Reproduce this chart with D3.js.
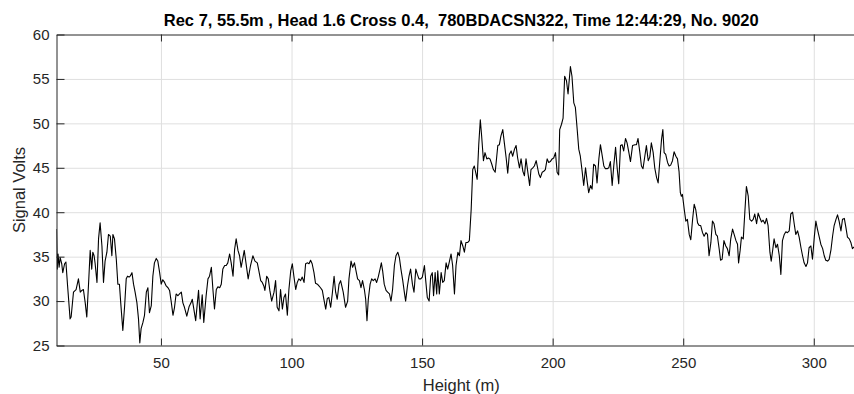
<!DOCTYPE html>
<html>
<head>
<meta charset="utf-8">
<script src="https://cdn.jsdelivr.net/npm/d3@7"></script>
<style>
  html, body { margin: 0; padding: 0; background: #fff; }
  svg { display: block; font-family: "Liberation Sans", Arial, Helvetica, sans-serif; }
</style>
</head>
<body>
<svg id="chart" width="854" height="394"></svg>
<script>
// Sensor trace: height along the run (m) and measured signal (V)
const heights = [
  10.0, 10.3, 10.6, 11.0, 11.4, 12.0, 12.4, 13.1, 13.6, 14.2, 15.2, 15.6, 16.5, 17.5, 18.4, 19.1, 19.7, 20.3, 21.0, 21.6,
  22.3, 22.9, 23.5, 23.9, 24.4, 24.8, 25.5, 26.1, 26.7, 27.4, 28.0, 28.6, 29.3, 29.9, 30.6, 31.2, 31.6, 32.2, 32.9, 33.5,
  34.1, 34.6, 35.4, 36.1, 36.7, 37.2, 37.8, 38.2, 38.9, 39.5, 40.1, 40.8, 41.4, 41.9, 42.4, 43.1, 43.7, 44.4, 45.0,
  45.6, 46.3, 46.9, 47.5, 48.2, 48.8, 49.5, 50.1, 50.7, 51.4, 52.0, 52.7, 53.3, 53.9, 54.6, 55.2, 55.8, 56.5, 57.1, 57.8,
  58.4, 59.0, 59.9, 60.8, 61.5, 62.0, 63.3, 64.4, 65.0, 65.8, 66.4, 67.3, 68.0, 68.6, 69.3, 69.9, 70.5, 71.2, 71.8, 72.5,
  73.1, 73.7, 74.4, 75.0, 75.6, 76.3, 76.9, 77.6, 78.2, 78.8, 79.5, 80.1, 80.7, 81.4, 81.9,
  83.4, 84.3, 85.2, 86.0, 86.9, 87.5, 88.2, 88.8, 89.4, 89.8, 90.5, 91.1, 91.7, 92.4, 93.3, 93.9, 94.5, 95.2, 95.8, 96.5,
  97.1, 97.7, 98.4, 99.0, 99.7, 100.3, 100.9, 101.6, 102.2, 102.8, 103.5, 104.1, 104.8, 105.4, 106.0, 106.7, 107.3, 107.9,
  108.6, 109.2, 109.9, 110.5, 111.1, 111.8, 112.4, 113.1, 113.7, 114.3, 115.0, 115.6, 116.3, 116.9, 117.5, 118.2, 118.8,
  119.8, 120.7, 121.5, 122.0, 122.8, 123.4, 124.1, 124.7, 125.3, 126.0, 126.6, 127.2, 127.9, 128.4, 128.9, 129.4, 130.1,
  130.7, 131.3, 132.0, 132.6, 133.2, 133.9, 134.4, 134.9, 135.5, 136.2, 136.8, 137.5, 138.1, 138.7, 139.4, 140.0, 140.7,
  141.3, 141.9, 142.6, 143.2, 143.7, 144.4, 145.0, 145.6, 146.3, 146.9, 147.6, 148.2, 148.8, 149.5, 150.1, 150.9, 151.4,
  152.0, 152.7, 153.3, 153.9, 154.4, 155.0, 155.6,
  156.0, 156.6, 157.3, 157.9, 158.5, 159.2, 159.8, 160.5, 161.1, 161.7, 162.4, 163.0, 163.7, 164.3, 164.9, 165.6, 166.2,
  166.8, 167.5, 168.1, 168.8, 169.4, 170.0, 171.1, 171.7, 172.3, 172.8, 173.5, 174.1, 174.8, 175.4, 176.0, 176.7, 177.3,
  178.0, 178.6, 179.0, 179.6, 180.2, 180.9, 181.5, 182.2, 182.8, 183.4, 184.1, 184.7, 185.4, 186.0, 186.6, 187.3, 187.9,
  188.6, 189.2, 189.8, 190.5, 191.2, 191.7, 192.4, 193.0, 193.7,
  194.7, 195.3, 196.0, 196.6, 197.2, 197.9, 198.5, 199.1, 199.8, 200.4, 201.1, 201.7, 202.3, 202.7, 203.4, 204.0, 204.6,
  205.3, 205.9, 206.8, 207.4, 208.1, 208.7, 209.4, 210.0, 210.6, 211.3, 211.9, 212.6, 213.2, 213.8, 214.5, 215.1, 215.7,
  216.4, 217.0, 217.7, 218.3, 218.9, 219.6, 220.2, 220.9, 221.5, 222.1, 222.8, 223.4, 224.1, 224.7, 225.3, 226.0, 226.6,
  227.2, 227.9, 228.5, 229.2, 229.8,
  230.6, 231.5, 232.1, 232.7, 233.4, 234.0, 234.6, 235.3, 235.9, 236.6, 237.2, 237.8, 238.5, 239.1, 239.8, 240.4, 241.0,
  241.7, 242.2, 242.7, 243.3, 244.0, 244.6, 245.2, 245.9, 246.5, 247.2, 247.8, 248.4, 248.9, 249.3, 249.7, 250.4, 251.0,
  251.6, 252.3, 252.9, 253.6, 254.2, 254.8, 255.5, 256.1, 256.7, 257.4, 258.0, 258.7, 259.3, 259.9, 260.6, 261.2, 261.8,
  262.5, 263.1, 263.8, 264.3, 264.9, 265.6,
  266.3, 266.9, 267.6, 268.2, 268.9, 269.5, 270.2, 270.8, 271.2, 271.8, 272.3, 273.0, 273.6, 274.2, 274.9, 275.5, 276.2,
  276.8, 277.4, 278.1, 278.7, 279.3, 280.0, 280.6, 281.3, 281.9, 282.5, 283.2, 283.7, 284.3, 284.8, 285.5, 286.1, 286.8,
  287.4, 288.0, 288.7, 289.3, 289.9, 290.6, 291.2, 291.9, 292.5, 293.1, 293.8, 294.4, 295.1, 295.7, 296.3, 297.0, 297.6,
  298.2, 298.9, 299.5, 300.2, 300.8, 301.4, 302.1, 302.7, 303.4, 304.0, 304.6, 305.3, 305.9, 306.6, 307.2, 307.8, 308.5,
  309.1, 309.7, 310.4, 311.0, 311.7, 312.3, 312.9, 313.6, 314.2, 314.8, 315.4
];

const volts = [
  38.1, 33.6, 35.3, 33.8, 34.9, 34.2, 33.2, 34.2, 34.4, 31.9, 28.0, 28.2, 31.0, 31.3, 32.5, 31.0, 31.2, 31.3, 29.8, 28.2,
  32.1, 35.7, 33.6, 35.5, 35.1, 34.2, 32.1, 37.0, 38.8, 36.2, 32.1, 34.5, 35.5, 37.5, 37.3, 35.1, 37.5, 37.0, 34.7, 31.9,
  31.9, 29.8, 26.7, 29.5, 32.5, 32.8, 32.7, 32.8, 33.2, 31.9, 31.0, 29.8, 28.0, 25.3, 26.9, 27.6, 28.4, 31.0, 31.5,
  28.7, 29.5, 32.8, 34.3, 34.8, 34.5, 33.2, 31.9, 32.4, 32.1, 31.7, 31.5, 31.2, 30.0, 28.4, 29.3, 30.8, 30.6, 30.8, 31.0,
  29.8, 29.3, 28.3, 29.4, 29.8, 30.2, 27.8, 31.2, 28.0, 30.7, 27.6, 30.6, 32.5, 32.8, 33.8, 31.3, 29.1, 31.3, 31.6, 31.5,
  31.9, 33.6, 34.0, 34.0, 34.3, 35.3, 34.3, 32.8, 35.8, 37.0, 35.7, 35.1, 33.8, 34.9, 35.7,
  32.5, 34.0, 35.1, 34.5, 34.3, 33.4, 32.3, 32.1, 31.7, 31.2, 32.8, 32.5, 31.2, 30.0, 31.0, 32.3, 29.3, 28.9, 31.3, 29.1,
  30.4, 30.8, 28.4, 31.3, 33.4, 34.2, 32.8, 31.3, 32.1, 32.5, 32.3, 32.7, 32.1, 34.2, 34.3, 34.2, 34.6, 34.2,
  33.2, 32.0, 31.9, 31.7, 31.5, 31.2, 30.2, 29.1, 30.3, 30.4, 29.3, 30.8, 32.8, 31.0, 30.2, 31.9, 32.3,
  31.0, 29.3, 30.0, 32.5, 34.5, 33.8, 34.3, 33.4, 32.5, 32.3, 31.5, 32.3, 31.3, 30.2, 27.8, 30.2, 31.9,
  32.5, 32.3, 32.5, 32.1, 32.7, 33.6, 34.3, 33.4, 31.9, 31.2, 31.0, 30.8, 30.0, 31.3, 34.0, 35.1, 35.5,
  34.9, 33.6, 32.3, 31.0, 30.0, 31.7, 32.8, 33.6, 31.9, 31.0, 33.6, 33.0, 32.5, 32.5, 32.7, 34.0, 32.3,
  30.4, 30.0, 32.8, 33.2, 30.6, 33.2, 30.8,
  33.4, 30.8, 33.2, 32.1, 32.3, 34.3, 33.6, 34.5, 35.3, 34.0, 30.8, 34.0, 35.5, 35.1, 36.8, 36.2, 35.5,
  36.6, 36.6, 36.8, 40.3, 44.8, 45.2, 43.7, 47.6, 50.4, 48.6, 45.8, 46.7, 46.0, 46.1, 46.0, 45.4, 44.8,
  44.5, 46.3, 47.5, 47.6, 48.6, 49.3, 47.8, 46.1, 44.4, 46.5, 46.9, 46.3, 47.1, 47.5, 46.1, 45.0, 46.0,
  44.6, 44.1, 46.0, 44.5, 43.0, 44.8, 45.0, 45.2, 45.8,
  44.3, 43.9, 44.5, 44.6, 44.8, 46.0, 45.6, 45.7, 46.0, 46.1, 46.7, 44.5, 44.2, 49.3, 49.9, 50.6, 55.3,
  54.8, 53.3, 56.4, 55.3, 52.3, 51.8, 49.3, 47.1, 46.3, 44.6, 43.0, 45.0, 43.5, 42.2, 43.0, 42.6, 45.4,
  45.2, 43.3, 46.0, 47.6, 46.5, 45.2, 44.9, 44.9, 45.0, 45.7, 43.0, 45.2, 47.3, 45.0, 43.2, 47.5, 47.6,
  46.9, 48.3, 47.8, 46.7, 45.7,
  47.5, 47.6, 47.6, 48.3, 46.7, 45.2, 44.9, 46.3, 47.5, 45.8, 46.2, 47.8, 46.7, 45.0, 43.9, 43.3, 45.6,
  48.2, 49.3, 46.7, 46.5, 45.6, 45.2, 45.3, 45.8, 46.8, 46.3, 46.0, 44.6, 42.2, 41.8, 42.0, 40.3, 39.0,
  39.2, 37.5, 36.9, 39.2, 40.9, 40.3, 38.8, 38.5, 38.5, 37.7, 37.3, 37.7, 37.5, 35.1, 36.6, 39.0, 38.7,
  37.5, 37.3, 35.8, 34.6, 34.7, 36.8,
  36.2, 35.9, 35.1, 37.0, 38.1, 37.5, 36.8, 36.4, 34.3, 35.7, 37.2, 37.0, 40.0, 42.9, 41.8, 39.2, 39.0,
  39.2, 39.8, 38.7, 39.9, 39.4, 38.9, 39.1, 38.7, 39.3, 38.5, 35.5, 34.5, 35.8, 37.0, 36.0, 36.4, 35.1,
  33.0, 36.8, 37.5, 37.8, 37.7, 37.9, 39.8, 40.0, 38.7, 37.5, 37.9, 37.2, 36.0, 35.1, 34.3, 33.9, 34.3,
  36.0, 36.2, 34.7, 37.2, 39.0, 38.1, 37.2, 36.4, 35.9, 35.1, 34.6, 34.5, 34.7, 35.8, 37.3, 38.5, 39.2,
  39.7, 39.0, 37.9, 39.2, 39.3, 38.3, 37.2, 37.0, 36.6, 35.9, 36.1
];

const xTickValues = [50, 100, 150, 200, 250, 300];
const yTickValues = [25, 30, 35, 40, 45, 50, 55, 60];
const titleText = "Rec 7, 55.5m , Head 1.6 Cross 0.4,  780BDACSN322, Time 12:44:29, No. 9020";
const xLabelText = "Height (m)";
const yLabelText = "Signal Volts";

const points = heights.map((h, i) => ({ h, v: volts[i] }));

const svg = d3.select("#chart");
const plot = { left: 56.5, right: 866, top: 34.5, bottom: 345.5 };
const axisColor = "#262626";

const x = d3.scaleLinear().domain([10, 320]).range([plot.left, plot.right]);
const y = d3.scaleLinear().domain([25, 60]).range([plot.bottom, plot.top]);

// grid
const grid = svg.append("g").attr("class", "grid");
grid.append("g")
  .attr("transform", `translate(0,${plot.bottom})`)
  .call(d3.axisBottom(x).tickValues(xTickValues).tickSize(-(plot.bottom - plot.top)).tickFormat("").tickSizeOuter(0))
  .call(g => g.select(".domain").remove())
  .call(g => g.selectAll("line").attr("stroke", "#dfdfdf").attr("stroke-width", 1));
grid.append("g")
  .attr("transform", `translate(${plot.left},0)`)
  .call(d3.axisLeft(y).tickValues(yTickValues.slice(1, -1)).tickSize(-(plot.right - plot.left)).tickFormat("").tickSizeOuter(0))
  .call(g => g.select(".domain").remove())
  .call(g => g.selectAll("line").attr("stroke", "#dfdfdf").attr("stroke-width", 1));

// signal trace
svg.append("clipPath").attr("id", "plot-clip")
  .append("rect")
  .attr("x", plot.left).attr("y", plot.top)
  .attr("width", plot.right - plot.left).attr("height", plot.bottom - plot.top);

const line = d3.line().x(d => x(d.h)).y(d => y(d.v));
svg.append("path")
  .datum(points)
  .attr("clip-path", "url(#plot-clip)")
  .attr("fill", "none")
  .attr("stroke", "#000")
  .attr("stroke-width", 1.1)
  .attr("stroke-linejoin", "round")
  .attr("d", line);

// axes with inward ticks
function styleAxis(g) {
  g.select(".domain").attr("stroke", axisColor).attr("stroke-width", 1);
  g.selectAll(".tick line").attr("stroke", axisColor).attr("stroke-width", 1);
  g.selectAll(".tick text").attr("fill", axisColor).attr("font-size", 15)
    .attr("font-family", "\"Liberation Sans\", Arial, Helvetica, sans-serif");
}

svg.append("g")
  .attr("transform", `translate(0,${plot.bottom})`)
  .call(d3.axisBottom(x).tickValues(xTickValues).tickSizeInner(-7).tickSizeOuter(0).tickPadding(12))
  .call(styleAxis);

svg.append("g")
  .attr("transform", `translate(0,${plot.top})`)
  .call(d3.axisTop(x).tickValues(xTickValues).tickSizeInner(-7).tickSizeOuter(0).tickFormat(""))
  .call(styleAxis);

svg.append("g")
  .attr("transform", `translate(${plot.left},0)`)
  .call(d3.axisLeft(y).tickValues(yTickValues).tickSizeInner(-8).tickSizeOuter(0).tickPadding(7))
  .call(styleAxis);

svg.append("g")
  .attr("transform", `translate(${plot.right},0)`)
  .call(d3.axisRight(y).tickValues(yTickValues).tickSizeInner(-8).tickSizeOuter(0).tickFormat(""))
  .call(styleAxis);

// labels
const cx = (plot.left + plot.right) / 2;
svg.append("text")
  .attr("x", cx).attr("y", 26)
  .attr("text-anchor", "middle")
  .attr("font-size", 16.5).attr("font-weight", "bold")
  .attr("fill", "#000")
  .style("white-space", "pre")
  .text(titleText);

svg.append("text")
  .attr("x", cx).attr("y", 391)
  .attr("text-anchor", "middle")
  .attr("font-size", 16.5)
  .attr("fill", axisColor)
  .text(xLabelText);

svg.append("text")
  .attr("transform", `translate(25,${(plot.top + plot.bottom) / 2}) rotate(-90)`)
  .attr("text-anchor", "middle")
  .attr("font-size", 16.5)
  .attr("fill", axisColor)
  .text(yLabelText);
</script>
</body>
</html>
